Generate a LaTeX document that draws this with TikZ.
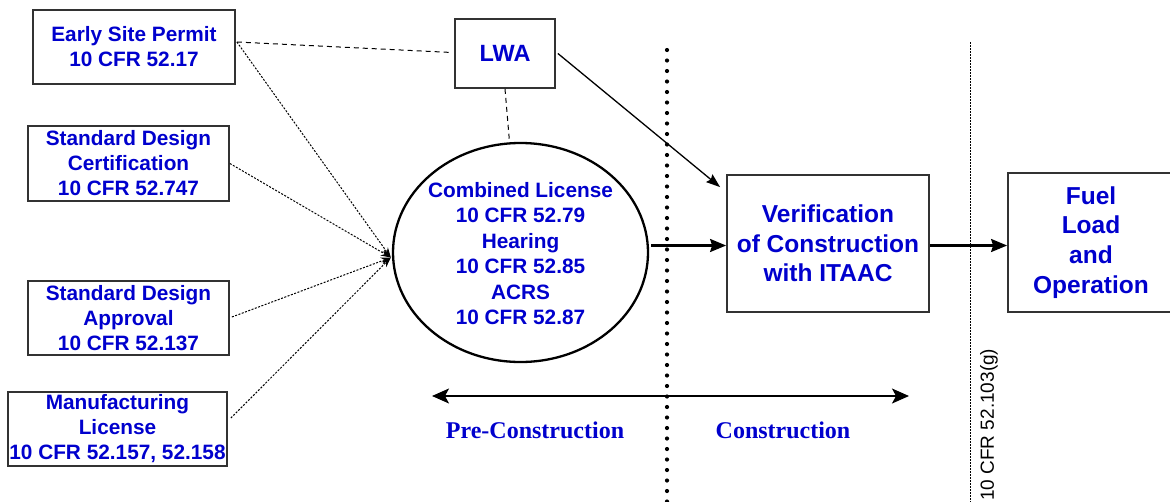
\documentclass[tikz,border=0pt]{standalone}
\usepackage{fontspec}
\newfontfamily\arialf{Liberation Sans}
\newfontfamily\timesf{Liberation Serif}
\usetikzlibrary{shapes.geometric,arrows.meta,calc}
\definecolor{tblue}{RGB}{0,0,205}
\definecolor{edge}{RGB}{50,50,50}
\begin{document}
\begin{tikzpicture}[x=1pt,y=-1pt,
  box/.style={draw=edge, line width=1.8pt, rectangle, inner sep=0pt, align=center,
    text=tblue, font=\arialf\bfseries\fontsize{20.8}{25}\selectfont},
  bigbox/.style={box, font=\arialf\bfseries\fontsize{24.5}{29.7}\selectfont},
  bluetext/.style={text=tblue, align=center, inner sep=0pt},
  dotarrow/.style={line width=1pt, dash pattern=on 2pt off 1.5pt, -{Stealth[length=10pt,width=7pt]}},
  dashline/.style={line width=1pt, dash pattern=on 5pt off 4pt},
  mainarrow/.style={line width=2.2pt, -{Stealth[length=16pt,width=13pt,inset=2pt]}},
  thinarrow/.style={line width=1.3pt, -{Stealth[length=14pt,width=10pt,inset=2pt]}},
  spanarrow/.style={line width=1.5pt, {Stealth[length=17pt,width=15pt,inset=4pt]}-{Stealth[length=17pt,width=15pt,inset=4pt]}},
  phase/.style={text=tblue, inner sep=0pt, font=\timesf\bfseries\fontsize{24}{28}\selectfont}
]
\useasboundingbox (0,0) rectangle (1170,501);
\clip (0,0) rectangle (1170,501);

% left boxes
\node[box, minimum width=202pt, minimum height=74pt] (esp) at (134,47) {Early Site Permit\\10 CFR 52.17};
\node[box, minimum width=201pt, minimum height=75pt] (sdc) at (128.5,163.5) {Standard Design\\Certification\\10 CFR 52.747};
\node[box, minimum width=201pt, minimum height=74pt] (sda) at (128.5,318) {Standard Design\\Approval\\10 CFR 52.137};
\node[box, minimum width=219pt, minimum height=74pt] (ml) at (117.5,429) {Manufacturing\\License\\10 CFR 52.157, 52.158};

% LWA
\node[box, minimum width=100pt, minimum height=69pt, font=\arialf\bfseries\fontsize{23.5}{28}\selectfont] (lwa) at (505,53.5) {LWA};

% combined license ellipse
\node[ellipse, draw=black, line width=2.3pt, minimum width=255pt, minimum height=219pt, inner sep=0pt] (cl) at (520.5,252.5) {};
\node[bluetext, font=\arialf\bfseries\fontsize{20.8}{25.5}\selectfont] (cltext) at ($(cl.center)+(0,1)$) {Combined License\\10 CFR 52.79\\Hearing\\10 CFR 52.85\\ACRS\\10 CFR 52.87};

% right boxes
\node[bigbox, minimum width=202pt, minimum height=137pt] (ver) at (828,243.5) {Verification\\of Construction\\with ITAAC};
\node[bigbox, minimum width=166pt, minimum height=139pt] (fuel) at (1091,242.5) {Fuel\\Load\\and\\Operation};

% separators
\coordinate (dtop) at (667,50);
\coordinate (dbot) at (667,503);
\draw[line width=4.2pt, line cap=round, dash pattern=on 0pt off 10.5pt] (dtop) -- (dbot);
\coordinate (ltop) at (970,42);
\coordinate (lbot) at (970,503);
\draw[line width=0.8pt, dash pattern=on 2pt off 1pt] (ltop) -- (lbot);
\node[rotate=90, anchor=west, inner sep=0pt, font=\arialf\fontsize{19}{22}\selectfont] (cfr) at (989,501) {10 CFR 52.103(g)};

% connectors
\coordinate (conv) at ($(cl.west)+(-1,5)$);
\draw[dotarrow] ($(esp.east)+(1,-5)$) -- (conv);
\draw[dotarrow] (sdc.east) -- (conv);
\draw[dotarrow] ($(sda.east)+(2,-1)$) -- (conv);
\draw[dotarrow] ($(ml.east)+(3,-11)$) -- (conv);
\draw[dashline] ($(esp.east)+(1,-5)$) -- ($(lwa.west)+(-2,-1)$);
\draw[dashline] (lwa.south) -- ($(cl.north)+(-11,0)$);
\draw[thinarrow] ($(lwa.east)+(2,0)$) -- ($(ver.north west)+(-6,13)$);
\draw[mainarrow] ($(cl.east |- ver.west)+(2,2)$) -- ($(ver.west)+(0,2)$);
\draw[mainarrow] ($(ver.east)+(0,2)$) -- ($(ver.east -| fuel.west)+(0,2)$);

% phase arrow and labels
\coordinate (pl) at (432,396);
\coordinate (pr) at (909,396);
\draw[spanarrow] (pl) -- (pr);
\node[phase] (pre) at (535,430) {Pre-Construction};
\node[phase] (con) at (783,430) {Construction};
\end{tikzpicture}
\end{document}
